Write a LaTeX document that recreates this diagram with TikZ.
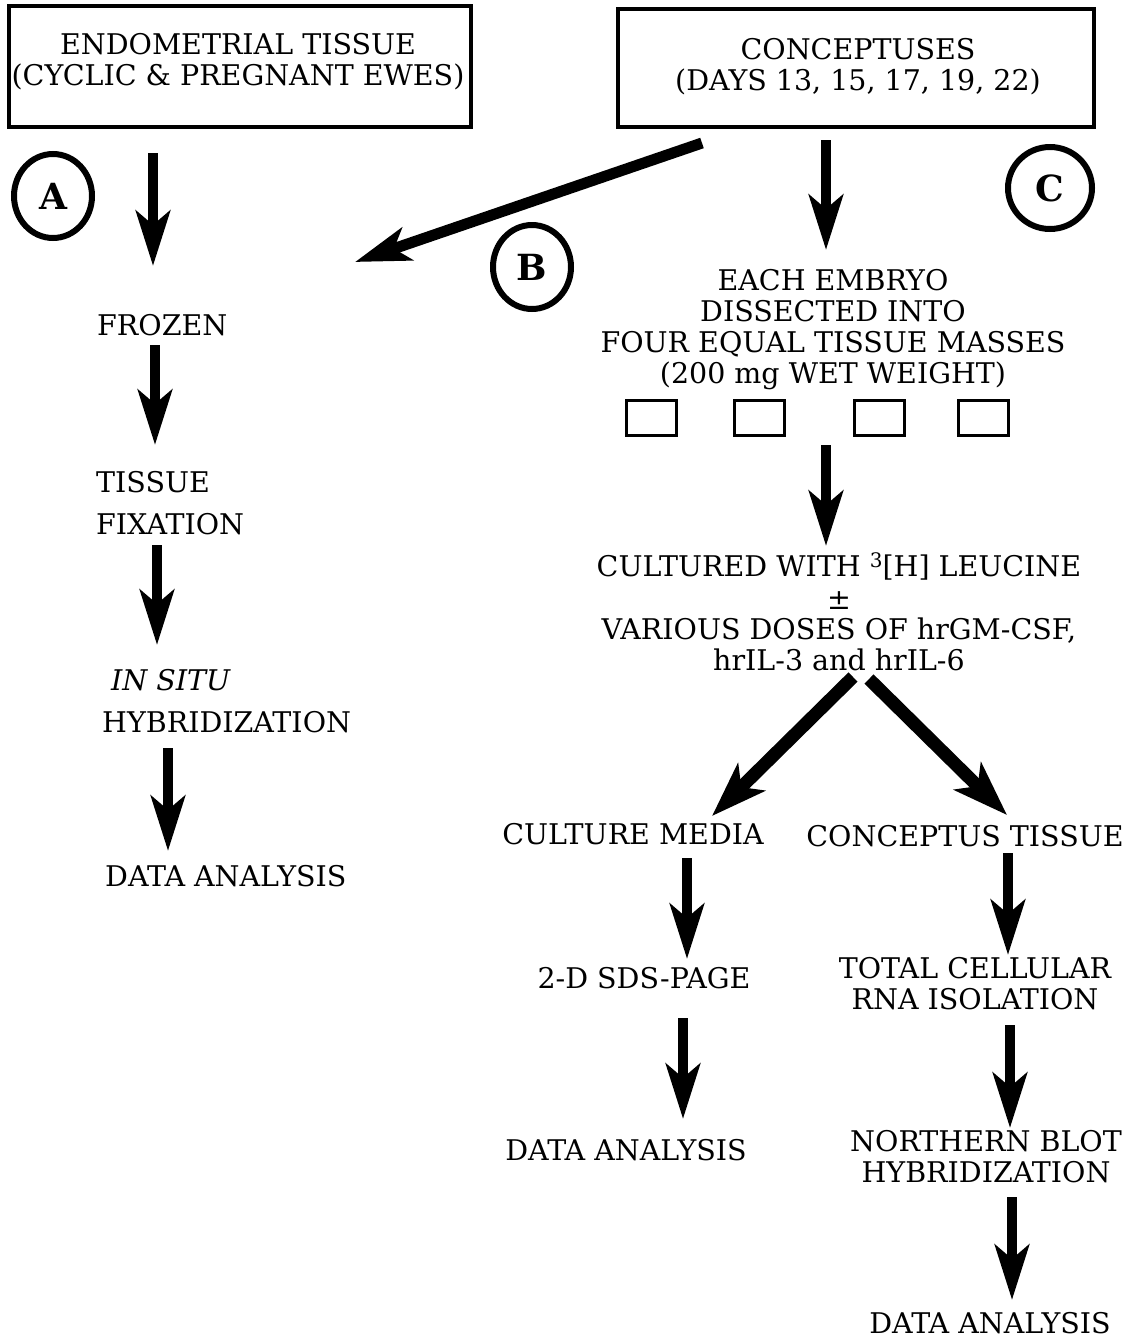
\documentclass[tikz,border=0pt]{standalone}
\usepackage{fontspec}
\setmainfont{DejaVu Serif}
\usetikzlibrary{arrows.meta,shapes.geometric}
\newcommand{\supthree}{{\fontsize{20}{20}\selectfont\raisebox{9pt}{3}}}
\begin{document}
\begin{tikzpicture}[x=1pt,y=-1pt,
  txt/.style={font=\fontsize{28.5}{31}\selectfont, inner sep=0pt, align=center},
  ltxt/.style={font=\fontsize{28.5}{42}\selectfont, inner sep=0pt, align=left},
  topbox/.style={draw, line width=4.5pt, inner sep=0pt},
  lettercirc/.style={ellipse, draw, line width=6pt, minimum width=78pt, minimum height=84pt, inner sep=0pt, font=\fontsize{36}{36}\selectfont\bfseries},
  mass/.style={draw, line width=3pt, minimum width=50pt, minimum height=35pt, inner sep=0pt},
  arr/.style={line width=10pt, -{Stealth[length=55pt,width=34pt,inset=14pt]}},
  darr/.style={line width=13pt, -{Stealth[length=55pt,width=38pt,inset=14pt]}}
]
\useasboundingbox[fill=white] (0,0) rectangle (1133,1339);

% top boxes
\node[topbox, minimum width=462pt, minimum height=121pt] (box1) at (240,66.5) {};
\node[txt] (endo) at (238,62) {ENDOMETRIAL TISSUE\\(CYCLIC \& PREGNANT EWES)};
\node[topbox, minimum width=476pt, minimum height=118pt] (box2) at (856,68) {};
\node[txt] (conc) at (858,67) {CONCEPTUSES\\(DAYS 13, 15, 17, 19, 22)};

% circled letters
\node[lettercirc] (cA) at (53,196) {A};
\node[lettercirc] (cB) at (532,267) {B};
\node[lettercirc, minimum width=84pt, minimum height=82pt] (cC) at (1050,188) {C};

% left column
\node[ltxt, anchor=west] (frozen) at (97,325) {FROZEN};
\node[ltxt, anchor=west] (fix) at (96,503) {TISSUE\\FIXATION};
\node[ltxt, anchor=west] (insitu) at (102,701) {\hspace*{9pt}\textit{IN SITU}\\HYBRIDIZATION};
\node[ltxt, anchor=west] (dataA) at (105,876) {DATA ANALYSIS};

% right column
\node[txt] (embryo) at (833,330) {EACH EMBRYO\\DISSECTED INTO\\FOUR EQUAL TISSUE MASSES\\(200 mg WET WEIGHT)};
\node[mass] (m1) at (651,418) {};
\node[mass] (m2) at (759,418) {};
\node[mass] (m3) at (879,418) {};
\node[mass] (m4) at (983,418) {};
\node[txt] (cult) at (839,612) {CULTURED WITH \supthree[H] LEUCINE\\[2pt]±\\[-1pt]VARIOUS DOSES OF hrGM-CSF,\\hrIL-3 and hrIL-6};
\node[txt] (media) at (633,834) {CULTURE MEDIA};
\node[txt] (tissue) at (965,836) {CONCEPTUS TISSUE};
\node[txt] (sds) at (644,978) {2-D SDS-PAGE};
\node[txt] (dataB) at (626,1150) {DATA ANALYSIS};
\node[txt] (rna) at (975,984) {TOTAL CELLULAR\\RNA ISOLATION};
\node[txt] (north) at (986,1157) {NORTHERN BLOT\\HYBRIDIZATION};
\node[txt] (dataC) at (990,1323) {DATA ANALYSIS};

% arrow end points
\coordinate (aAs) at (153,153); \coordinate (aAe) at (153,266);
\coordinate (aBs) at (702,143); \coordinate (aBe) at (355,262);
\coordinate (aCs) at (826,140); \coordinate (aCe) at (826,250);
\coordinate (a1s) at (155,345); \coordinate (a1e) at (155,445);
\coordinate (a2s) at (157,545); \coordinate (a2e) at (157,645);
\coordinate (a3s) at (168,748); \coordinate (a3e) at (168,851);
\coordinate (a4s) at (826,445); \coordinate (a4e) at (826,546);
\coordinate (a5s) at (853,677); \coordinate (a5e) at (712,816);
\coordinate (a6s) at (869,679); \coordinate (a6e) at (1007,815);
\coordinate (a7s) at (687,858); \coordinate (a7e) at (687,959);
\coordinate (a8s) at (683,1018); \coordinate (a8e) at (683,1119);
\coordinate (a9s) at (1008,853); \coordinate (a9e) at (1008,955);
\coordinate (a10s) at (1010,1025); \coordinate (a10e) at (1010,1128);
\coordinate (a11s) at (1012,1197); \coordinate (a11e) at (1012,1300);

\draw[arr] (aAs) -- (aAe);
\draw[arr, line width=11pt] (aBs) -- (aBe);
\draw[arr] (aCs) -- (aCe);
\draw[arr] (a1s) -- (a1e);
\draw[arr] (a2s) -- (a2e);
\draw[arr] (a3s) -- (a3e);
\draw[arr] (a4s) -- (a4e);
\draw[darr] (a5s) -- (a5e);
\draw[darr] (a6s) -- (a6e);
\draw[arr] (a7s) -- (a7e);
\draw[arr] (a8s) -- (a8e);
\draw[arr] (a9s) -- (a9e);
\draw[arr] (a10s) -- (a10e);
\draw[arr] (a11s) -- (a11e);
\end{tikzpicture}
\end{document}
